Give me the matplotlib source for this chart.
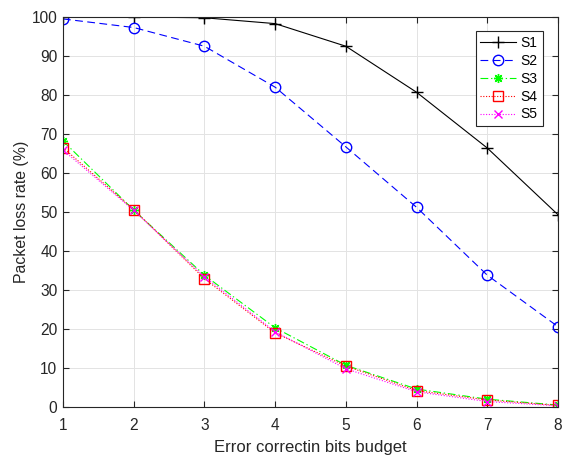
import matplotlib
matplotlib.use("Agg")
import matplotlib.pyplot as plt

plt.rcParams['font.family'] = ['Liberation Sans', 'DejaVu Sans']

x = [1, 2, 3, 4, 5, 6, 7, 8]
s1 = [100, 100, 99.8, 98.3, 92.5, 80.7, 66.4, 49.3]
s2 = [99.5, 97.3, 92.5, 82.0, 66.7, 51.2, 33.8, 20.6]
s3 = [68.2, 50.5, 33.8, 20.3, 10.7, 4.6, 2.0, 0.5]
s4 = [66.5, 50.6, 32.9, 19.0, 10.5, 4.2, 1.8, 0.4]
s5 = [65.9, 50.4, 33.4, 19.3, 9.8, 3.9, 1.4, 0.3]
labels = ['S1', 'S2', 'S3', 'S4', 'S5']
xticks = [1, 2, 3, 4, 5, 6, 7, 8]
yticks = [0, 10, 20, 30, 40, 50, 60, 70, 80, 90, 100]

fig = plt.figure(figsize=(5.65, 4.59), dpi=100)
ax = fig.add_axes([0.1115, 0.1133, 0.8761, 0.8497])

lw = 0.8
ax.plot(x, s1, color='black', linestyle='-', marker='+', markersize=8.5, linewidth=lw, label=labels[0])
ax.plot(x, s2, color='blue', linestyle=(0, (7, 4)), marker='o', markersize=7.5, markerfacecolor='none', linewidth=lw, label=labels[1])
ax.plot(x, s3, color='#00ff00', linestyle=(0, (7, 2.5, 1.2, 2.5)), marker=(8, 2, 0), markersize=6.5, linewidth=lw, label=labels[2])
ax.plot(x, s4, color='red', linestyle=(0, (1, 1.5)), marker='s', markersize=6.5, markerfacecolor='none', linewidth=lw, label=labels[3])
ax.plot(x, s5, color='magenta', linestyle=(0, (1, 1.5)), marker='x', markersize=5.5, linewidth=lw, label=labels[4])

ax.set_xlim(1, 8)
ax.set_ylim(0, 100)
ax.set_xticks(xticks)
ax.set_yticks(yticks)
ax.grid(True, color='#e3e3e3', linewidth=0.7)
ax.set_axisbelow(True)
for sp in ax.spines.values():
    sp.set_color('#262626')
    sp.set_linewidth(0.8)
ax.tick_params(direction='in', top=True, right=True, length=4, width=0.8,
               colors='#262626', labelsize=11.2)
ax.tick_params(axis='x', pad=8)
ax.tick_params(axis='y', pad=4)
ax.set_xlabel('Error correctin bits budget', fontsize=12, color='#262626', labelpad=5)
ax.set_ylabel('Packet loss rate (%)', fontsize=11.4, color='#262626', labelpad=2)

leg = ax.legend(loc='upper right', bbox_to_anchor=(0.969, 0.964), borderaxespad=0,
                fontsize=10, fancybox=False, edgecolor='#262626', framealpha=1,
                handlelength=2.6, borderpad=0.35, labelspacing=0.28, handletextpad=0.3)
leg.get_frame().set_linewidth(0.8)

fig.savefig('out.png', dpi=100)
